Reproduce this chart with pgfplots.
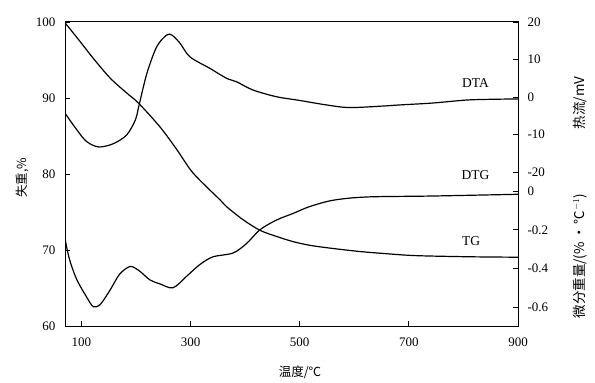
\documentclass[border=0pt]{standalone}
\usepackage{fontspec}
\setmainfont{Liberation Serif}
\newfontfamily\cjk{Noto Sans CJK SC}
\usepackage{pgfplots}
\pgfplotsset{compat=1.18}

\begin{document}
\begin{tikzpicture}
\pgfplotsset{every axis/.append style={
  scale only axis, width=453pt, height=304pt,
  xmin=70, xmax=900,
  /pgf/number format/assume math mode=true,
  tick label style={font=\fontsize{13}{15}\selectfont},
  tick align=inside, major tick length=5pt,
  axis line style={line width=1pt}, tick style={line width=0.8pt, black},
}}
% TG
\begin{axis}[ymin=60, ymax=100, ytick={60,70,80,90,100},
  xtick={100,300,500,700,900}, xtick pos=bottom, ytick pos=left,
  yticklabel style={xshift=-6pt}, xticklabel style={yshift=-8pt}]
\addplot[black, line width=1.2pt, smooth, tension=0.5] coordinates {
(70,99.9) (98,97.4) (122,95.2) (153,92.6) (184,90.6) (205,89.3) (244,86.2) (275,83.2) (305,80.1) (354,76.6) (366,75.7) (396,74.0) (427,72.6) (457,71.8) (488,71.1) (520,70.6) (561,70.2) (610,69.8) (652,69.55) (700,69.3) (743,69.2) (820,69.1) (900,69.05)
};
\coordinate (SW) at (rel axis cs:0,0);
\coordinate (NE) at (rel axis cs:1,1);
\node[font=\fontsize{13.5}{15}\selectfont] at (axis cs:822,91.9) {DTA};
\node[font=\fontsize{13.5}{15}\selectfont] at (axis cs:822,79.9) {DTG};
\node[font=\fontsize{13.5}{15}\selectfont] at (axis cs:814,71.2) {TG};
\end{axis}
% DTA
\begin{axis}[axis y line*=right, axis x line=none, ymin=-61, ymax=20,
  ytick={-20,-10,0,10,20}, yticklabel style={xshift=6pt}]
\addplot[black, line width=1.2pt, smooth, tension=0.5] coordinates {
(70,-4.3) (92,-8.8) (110,-11.9) (132,-13.3) (159,-12.4) (183,-10.1) (199,-6.1) (205,-2.6) (220,6.3) (238,13.4) (256,16.5) (266,16.5) (281,14.3) (299,10.7) (336,7.6) (366,5.0) (384,4.1) (414,1.9) (457,0.1) (500,-0.9) (549,-2.1) (591,-2.8) (652,-2.4) (683,-2.1) (743,-1.6) (805,-0.8) (850,-0.6) (900,-0.5)
};
\end{axis}
% DTG
\begin{axis}[axis y line*=right, axis x line=none, ymin=-0.698, ymax=0.876,
  ytick={-0.6,-0.4,-0.2,0}, yticklabel style={xshift=6pt, /pgf/number format/.cd, fixed, precision=1}]
\addplot[black, line width=1.2pt, smooth, tension=0.5] coordinates {
(70,-0.24) (73,-0.29) (80,-0.37) (92,-0.46) (110,-0.55) (122,-0.598) (135,-0.585) (153,-0.51) (170,-0.43) (189,-0.39) (205,-0.41) (226,-0.46) (244,-0.48) (268,-0.50) (293,-0.44) (317,-0.38) (341,-0.34) (378,-0.32) (403,-0.27) (427,-0.20) (457,-0.15) (488,-0.115) (518,-0.08) (561,-0.047) (622,-0.03) (743,-0.025) (900,-0.016)
};
\end{axis}
\path (SW) ++(-43pt,148pt) node[rotate=90, font=\cjk\fontsize{12.5}{14}\selectfont] {失重,\%};
\path (SW) ++(235pt,-46pt) node[font=\cjk\fontsize{12.5}{14}\selectfont] {温度/℃};
\path (SW) ++(515pt,223pt) node[rotate=90, font=\cjk\fontsize{13.5}{15}\selectfont] {热流/mV};
\path (SW) ++(515pt,70pt) node[rotate=90, font=\cjk\fontsize{13.5}{15}\selectfont] {微分重量/(\%\,·\,℃$^{-1}$)};
\pgfresetboundingbox
\path ([shift={(-65pt,-56pt)}]SW) rectangle ([shift={(77pt,22pt)}]NE);
\end{tikzpicture}
\end{document}
